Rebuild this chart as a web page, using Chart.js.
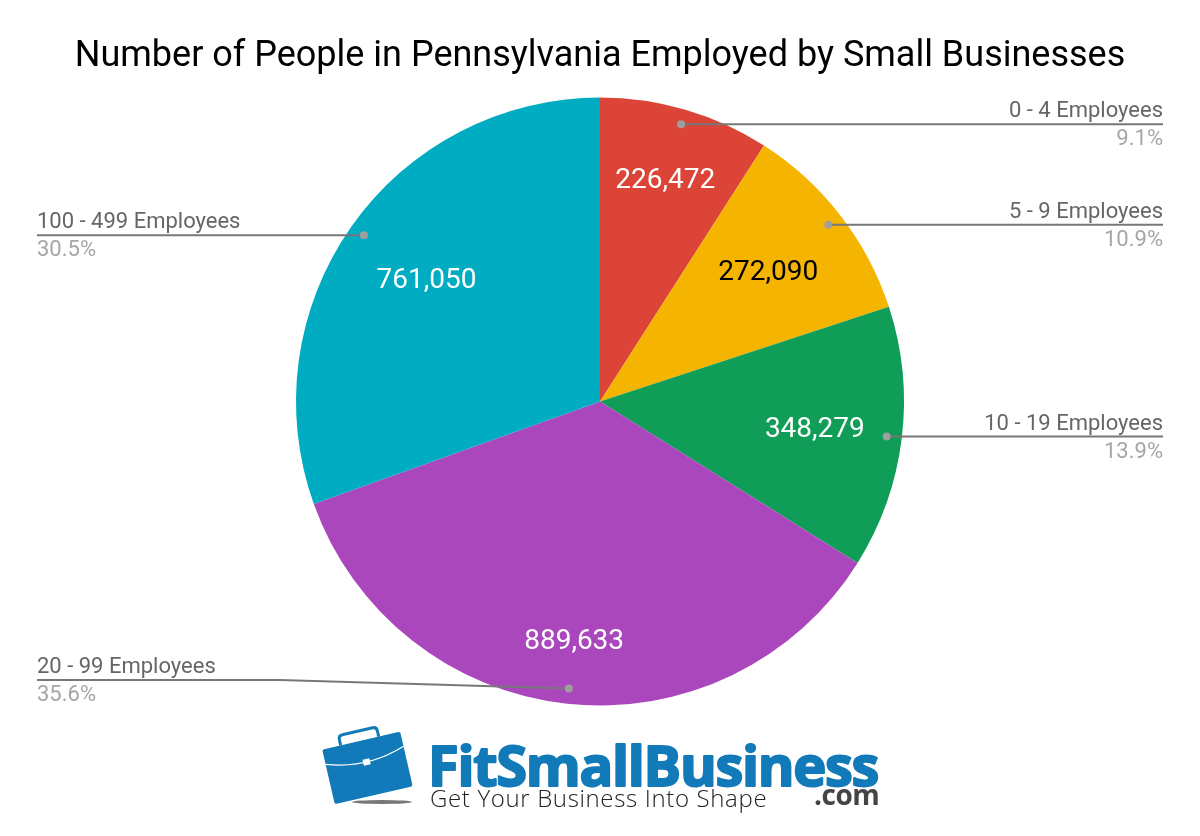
<!DOCTYPE html>
<html>
<head>
<meta charset="utf-8">
<title>Number of People in Pennsylvania Employed by Small Businesses</title>
<style>
html, body { margin: 0; padding: 0; background: #fff; }
canvas { display: block; }
</style>
<script src="https://cdn.jsdelivr.net/npm/chart.js@4"></script>
</head>
<body>
<canvas id="pie" width="1200" height="836"></canvas>
<script>
const titleText = "Number of People in Pennsylvania Employed by Small Businesses";
const categories = ["0 - 4 Employees", "5 - 9 Employees", "10 - 19 Employees", "20 - 99 Employees", "100 - 499 Employees"];
const employed = [226472, 272090, 348279, 889633, 761050];
const sliceColors = ["#DB4437", "#F4B400", "#0F9D58", "#AB47BC", "#00ACC1"];
const valueColors = ["#fff", "#000", "#fff", "#fff", "#fff"];
const percentLabels = ["9.1%", "10.9%", "13.9%", "35.6%", "30.5%"];
// how far out along the slice each value sits, the source chart nudges them
const valueRadius = [0.763, 0.70, 0.712, 0.79, 0.698];

const font = "Roboto, sans-serif";

const calloutPlugin = {
    id: "callouts",
    afterDatasetsDraw(chart) {
        const ctx = chart.ctx;
        chart.getDatasetMeta(0).data.forEach((arc, i) => {
            const mid = (arc.startAngle + arc.endAngle) / 2;
            const dotX = arc.x + Math.cos(mid) * arc.outerRadius * 0.95;
            const dotY = arc.y + Math.sin(mid) * arc.outerRadius * 0.95;
            const right = dotX > arc.x && categories[i] !== "20 - 99 Employees";
            const edgeX = right ? 1163 : 37;
            // the bottom label is pushed up a little, so its leader has a bend
            const lineY = i === 3 ? 680 : dotY;

            ctx.save();
            ctx.strokeStyle = "#777";
            ctx.lineWidth = 2;
            ctx.beginPath();
            ctx.moveTo(edgeX, lineY);
            if (i === 3) ctx.lineTo(280, lineY);
            ctx.lineTo(dotX, dotY);
            ctx.stroke();

            ctx.fillStyle = "#9e9e9e";
            ctx.beginPath();
            ctx.arc(dotX, dotY, 4, 0, Math.PI * 2);
            ctx.fill();

            ctx.font = "22px " + font;
            ctx.textAlign = right ? "right" : "left";
            ctx.textBaseline = "alphabetic";
            ctx.fillStyle = "#666";
            ctx.fillText(categories[i], edgeX, lineY - 7);
            ctx.fillStyle = "#a6a6a6";
            ctx.fillText(percentLabels[i], edgeX, lineY + 21);

            const vx = arc.x + Math.cos(mid) * arc.outerRadius * valueRadius[i];
            const vy = arc.y + Math.sin(mid) * arc.outerRadius * valueRadius[i];
            ctx.font = "28px " + font;
            ctx.textAlign = "center";
            ctx.textBaseline = "middle";
            ctx.fillStyle = valueColors[i];
            ctx.fillText(employed[i].toLocaleString("en-US"), vx, vy + 2);
            ctx.restore();
        });
    }
};

function drawBriefcase(ctx) {
    // shadow under the case
    ctx.fillStyle = "#777";
    ctx.beginPath();
    ctx.ellipse(382, 802, 30, 2, 0, 0, Math.PI * 2);
    ctx.fill();

    ctx.save();
    ctx.translate(367, 766);
    ctx.rotate(-13 * Math.PI / 180);
    ctx.fillStyle = "#127ab8";
    ctx.strokeStyle = "#127ab8";
    ctx.lineWidth = 3;
    ctx.lineJoin = "round";
    // handle
    ctx.beginPath();
    ctx.moveTo(-21, -26);
    ctx.lineTo(-21, -32);
    ctx.quadraticCurveTo(-21, -36, -17, -36);
    ctx.lineTo(14, -36);
    ctx.quadraticCurveTo(18, -36, 18, -32);
    ctx.lineTo(18, -26);
    ctx.stroke();
    // body
    ctx.beginPath();
    ctx.roundRect(-40, -26, 80, 56, 2);
    ctx.fill();
    // flap seam
    ctx.strokeStyle = "#fff";
    ctx.lineWidth = 1.2;
    ctx.beginPath();
    ctx.moveTo(-40, -11);
    ctx.quadraticCurveTo(0, 3, 40, -11);
    ctx.stroke();
    ctx.fillStyle = "#fff";
    ctx.fillRect(-3, -7, 7, 6);
    ctx.restore();
}

const logoPlugin = {
    id: "logo",
    afterDraw(chart) {
        const ctx = chart.ctx;
        drawBriefcase(ctx);
        ctx.save();
        ctx.textAlign = "left";
        ctx.textBaseline = "alphabetic";
        ctx.lineJoin = "round";

        ctx.font = "700 56px 'Open Sans', sans-serif";
        ctx.letterSpacing = "-1.3px";
        ctx.fillStyle = "#127ab8";
        ctx.strokeStyle = "#127ab8";
        ctx.lineWidth = 2;
        ctx.fillText("FitSmallBusiness", 428, 786);
        ctx.strokeText("FitSmallBusiness", 428, 786);

        ctx.letterSpacing = "0.65px";
        ctx.font = "300 24px 'Open Sans', sans-serif";
        ctx.fillStyle = "#222";
        ctx.fillText("Get Your Business Into Shape", 430, 807);

        ctx.letterSpacing = "-0.5px";
        ctx.font = "700 28px 'Open Sans', sans-serif";
        ctx.fillStyle = "#444";
        ctx.fillText(".com", 814, 805);
        ctx.restore();
    }
};

new Chart(document.getElementById("pie"), {
    type: "pie",
    data: {
        labels: categories,
        datasets: [{
            data: employed,
            backgroundColor: sliceColors,
            borderWidth: 0
        }]
    },
    options: {
        responsive: false,
        animation: false,
        layout: { padding: { top: 0, bottom: 130.5, left: 0, right: 0 } },
        plugins: {
            legend: { display: false },
            tooltip: { enabled: false },
            title: {
                display: true,
                text: titleText,
                color: "#000",
                font: { family: font, size: 36, weight: "400", lineHeight: 1.2 },
                padding: { top: 35, bottom: 19.3 }
            }
        }
    },
    plugins: [calloutPlugin, logoPlugin]
});
</script>
</body>
</html>
